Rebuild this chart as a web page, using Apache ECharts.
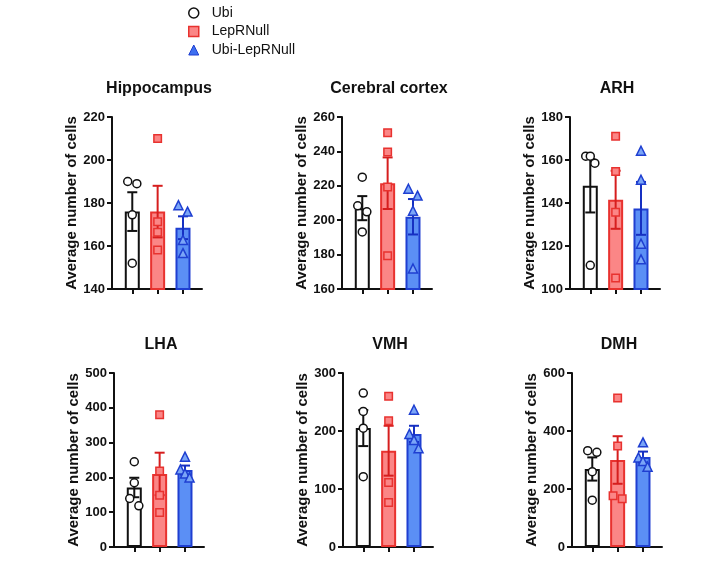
<!DOCTYPE html>
<html><head><meta charset="utf-8">
<script src="https://cdn.jsdelivr.net/npm/echarts@6/dist/echarts.min.js"></script>
<style>html,body{margin:0;padding:0;background:#fff}#c{width:704px;height:571px}</style>
</head><body><div id="c"></div>
<script>
const groups = ['Ubi', 'LepRNull', 'Ubi-LepRNull'];
const regions = ['Hippocampus', 'Cerebral cortex', 'ARH', 'LHA', 'VMH', 'DMH'];
const yAxisName = 'Average number of cells';
const yMin = [140, 160, 100, 0, 0, 0];
const yMax = [220, 260, 180, 500, 300, 600];
const yStep = [20, 20, 20, 100, 100, 200];

// mean and SEM per region, order: Ubi, LepRNull, Ubi-LepRNull
const meanHippocampus = [176, 176, 168.5];
const meanCortex = [207, 221.5, 202];
const meanARH = [148, 141.5, 137.5];
const meanLHA = [171, 210, 221];
const meanVMH = [205, 166, 195];
const meanDMH = [269, 300, 310];

const semHippocampus = [9, 12, 5.3];
const semCortex = [7, 15, 10.3];
const semARH = [12.4, 13.5, 12.3];
const semLHA = [28, 61, 13];
const semVMH = [31, 43, 14];
const semDMH = [40, 82, 19];

// individual animals
const ptsHippocampus = [[190, 189, 174.5, 152], [210, 171.3, 166.4, 158.1], [179, 176, 162.8, 156.7]];
const ptsCortex = [[225, 208.4, 204.9, 193.2], [250.9, 239.6, 219.3, 179.4], [218.3, 214.3, 205.5, 171.9]];
const ptsARH = [[161.8, 161.8, 158.5, 111], [171.1, 154.6, 135.7, 105.1], [164.3, 150.8, 121.1, 113.8]];
const ptsLHA = [[245, 184.6, 139.4, 118.3], [379.8, 218.3, 149, 99], [259.6, 223, 211.5, 200]];
const ptsVMH = [[265.4, 233.7, 204.8, 121.2], [259.7, 217.5, 111.4, 76.7], [236.6, 195, 184.6, 170.2]];
const ptsDMH = [[332, 326.5, 259.6, 161.5], [513.4, 348.5, 176.5, 166.2], [361, 309, 296.5, 277]];

const means = [meanHippocampus, meanCortex, meanARH, meanLHA, meanVMH, meanDMH];
const sems = [semHippocampus, semCortex, semARH, semLHA, semVMH, semDMH];
const points = [ptsHippocampus, ptsCortex, ptsARH, ptsLHA, ptsVMH, ptsDMH];

// styles
const FONT = "'Liberation Sans', Arial, Helvetica, sans-serif";
const strokeC = ['#111111', '#e8322f', '#1f3fd1'];
const fillC = ['#ffffff', '#fb8686', '#5b8ff5'];
const errC = ['#111111', '#d61e1e', '#1630c2'];
const symFill = ['#ffffff', '#fb8686', '#7aa5f7'];
const symbols = ['circle', 'rect', 'triangle'];
const symSize = [8, 7.5, 9];

const gridLeft = [112, 342, 570, 114, 343, 572];
const gridTop = [117, 117, 117, 373, 373, 373];
const gridH = [172, 172, 172, 174, 174, 174];
const gridW = 90;

function spread(vals, range) {
  const order = vals.map((v, i) => i).sort((a, b) => vals[b] - vals[a]);
  const off = new Array(vals.length).fill(0);
  let cluster = [order[0]];
  const flush = () => {
    const n = cluster.length;
    if (n > 1) cluster.forEach((k, j) => { off[k] = -0.18 + 0.36 * j / (n - 1); });
  };
  for (let j = 1; j < order.length; j++) {
    if (vals[order[j - 1]] - vals[order[j]] < range * 0.05) cluster.push(order[j]);
    else { flush(); cluster = [order[j]]; }
  }
  flush();
  return off;
}

const grid = [], xAxis = [], yAxis = [], series = [], title = [];
regions.forEach((reg, p) => {
  grid.push({left: gridLeft[p], top: gridTop[p], width: gridW, height: gridH[p], containLabel: false});
  title.push({
    text: reg, left: gridLeft[p] + gridW / 2 + 2, top: gridTop[p] - 36, textAlign: 'center', padding: 0,
    textStyle: {fontFamily: FONT, fontSize: 16, fontWeight: 'bold', color: '#111'}
  });
  xAxis.push({
    type: 'value', gridIndex: p, min: -0.8, max: 2.75,
    axisLine: {show: true, onZero: false, lineStyle: {color: '#111', width: 2}},
    axisTick: {show: true, customValues: [0, 1, 2], length: 5, lineStyle: {color: '#111', width: 2}},
    axisLabel: {show: false}, splitLine: {show: false}
  });
  yAxis.push({
    type: 'value', gridIndex: p, min: yMin[p], max: yMax[p], interval: yStep[p],
    name: yAxisName, nameLocation: 'middle', nameGap: 32, nameRotate: 90,
    nameTextStyle: {fontFamily: FONT, fontSize: 15, fontWeight: 'bold', color: '#111'},
    axisLine: {show: true, onZero: false, lineStyle: {color: '#111', width: 2}},
    axisTick: {show: true, length: 5, lineStyle: {color: '#111', width: 2}},
    axisLabel: {margin: 7, fontFamily: FONT, fontSize: 13, fontWeight: 'bold', color: '#111'},
    splitLine: {show: false}
  });
  series.push({
    type: 'bar', xAxisIndex: p, yAxisIndex: p, barWidth: 15, silent: true,
    data: groups.map((g, k) => ({
      value: [k, means[p][k]],
      itemStyle: {color: fillC[k], borderColor: strokeC[k], borderWidth: 2}
    }))
  });
  series.push({
    type: 'custom', xAxisIndex: p, yAxisIndex: p, silent: true, z: 3,
    encode: {x: 0, y: 1},
    data: groups.map((g, k) => [k, means[p][k], sems[p][k], k]),
    renderItem: (params, api) => {
      const x = api.value(0), m = api.value(1), s = api.value(2), k = api.value(3);
      const t = api.coord([x, m + s]), b = api.coord([x, m - s]);
      const w = 5;
      const style = {stroke: errC[k], lineWidth: 2, fill: null};
      return {type: 'group', children: [
        {type: 'line', shape: {x1: t[0], y1: t[1], x2: b[0], y2: b[1]}, style},
        {type: 'line', shape: {x1: t[0] - w, y1: t[1], x2: t[0] + w, y2: t[1]}, style},
        {type: 'line', shape: {x1: b[0] - w, y1: b[1], x2: b[0] + w, y2: b[1]}, style}
      ]};
    }
  });
  groups.forEach((g, k) => {
    const vals = points[p][k];
    const off = spread(vals, yMax[p] - yMin[p]);
    series.push({
      name: g, type: 'scatter', xAxisIndex: p, yAxisIndex: p, z: 4, silent: true,
      symbol: symbols[k], symbolSize: symSize[k],
      itemStyle: {color: symFill[k], borderColor: strokeC[k], borderWidth: 1.5, opacity: 1},
      data: vals.map((v, i) => [k + off[i], v])
    });
  });
});

const chart = echarts.init(document.getElementById('c'), null, {renderer: 'canvas'});
chart.setOption({
  backgroundColor: '#fff',
  animation: false,
  title,
  legend: {
    orient: 'vertical', left: 188, top: 6, padding: 0, itemWidth: 10, itemHeight: 10, itemGap: 4.5,
    selectedMode: false,
    textStyle: {fontFamily: FONT, fontSize: 14, color: '#111', padding: [0, 0, 0, 8]},
    data: [
      {name: 'Ubi', icon: 'circle', itemStyle: {color: '#fff', borderColor: '#111', borderWidth: 1.5}},
      {name: 'LepRNull', icon: 'rect', itemStyle: {color: '#fb8686', borderColor: '#e8322f', borderWidth: 1.5}},
      {name: 'Ubi-LepRNull', icon: 'triangle', itemStyle: {color: '#3d6ff0', borderColor: '#1f3fd1', borderWidth: 1}}
    ]
  },
  grid, xAxis, yAxis, series
});
</script></body></html>
